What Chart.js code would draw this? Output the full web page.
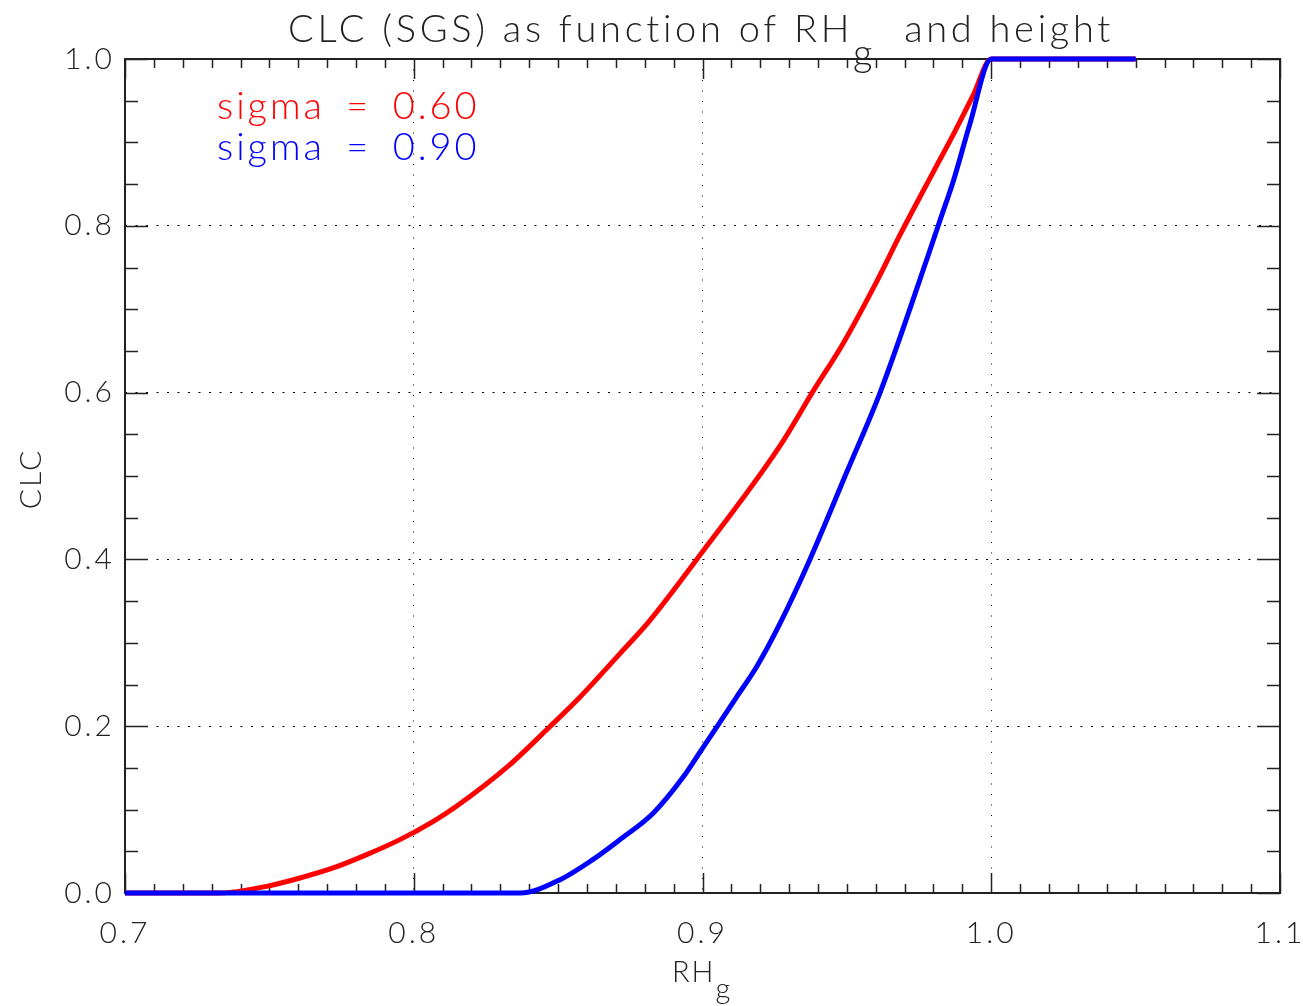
<!DOCTYPE html>
<html lang="en">
<head>
<meta charset="UTF-8" />
<title>CLC (SGS) as function of RHg and height</title>
<style>
  html, body { margin: 0; padding: 0; background: #fff; }
  #wrap { width: 1303px; height: 1006px; }
</style>
<script src="https://cdn.jsdelivr.net/npm/chart.js"></script>
</head>
<body>
<div id="wrap"><canvas id="clcChart"></canvas></div>
<script>
  // values
  const rhSigma060  = [0.700, 0.733, 0.749, 0.7606, 0.7721, 0.7837, 0.7952, 0.8068, 0.8148, 0.833, 0.847, 0.8576, 0.8714, 0.8818, 0.898, 0.927, 0.938, 0.9487, 0.960, 0.9684, 0.980, 0.9868, 0.9938, 1.000, 1.050];
  const clcSigma060 = [0.000, 0.000, 0.008, 0.018, 0.030, 0.046, 0.064, 0.086, 0.104, 0.153, 0.199, 0.235, 0.287, 0.327, 0.400, 0.537, 0.600, 0.659, 0.731, 0.789, 0.865, 0.909, 0.957, 1.000, 1.000];

  const rhSigma090  = [0.700, 0.837, 0.8507, 0.862, 0.8714, 0.883, 0.8933, 0.8997, 0.9049, 0.9118, 0.9187, 0.9268, 0.9372, 0.950, 0.9615, 0.9782, 0.9822, 0.9869, 0.9926, 1.000, 1.050];
  const clcSigma090 = [0.000, 0.000, 0.016, 0.040, 0.064, 0.096, 0.139, 0.172, 0.199, 0.235, 0.271, 0.323, 0.400, 0.505, 0.600, 0.765, 0.806, 0.854, 0.922, 1.000, 1.000];

  const seriesLabels = ['sigma = 0.60', 'sigma = 0.90'];
  const seriesColors = ['#ff0000', '#0000ff'];

  const FONT = 'Lato, "DejaVu Sans", sans-serif';
  const INK = '#222';

  function toPoints(xs, ys) {
    return xs.map((x, i) => ({ x: x, y: ys[i] }));
  }

  // draws text pieces, some of them as subscripts; returns total width
  function drawParts(ctx, parts, x, y, size, subDrop, doDraw) {
    let cx = x;
    parts.forEach(p => {
      ctx.font = `300 ${size}px ${FONT}`;
      if (doDraw) ctx.fillText(p.t, cx, p.sub ? y + subDrop : y);
      cx += ctx.measureText(p.t).width;
    });
    return cx - x;
  }

  const idlFrame = {
    id: 'idlFrame',
    beforeDraw(chart) {
      // wider glyph spacing for the tick labels, like the IDL font
      chart.ctx.letterSpacing = '3px';
    },
    beforeDatasetsDraw(chart) {
      const { ctx, chartArea: a, scales: { x, y } } = chart;
      ctx.save();
      ctx.strokeStyle = INK;
      ctx.lineWidth = 2;
      ctx.strokeRect(a.left, a.top, a.right - a.left, a.bottom - a.top);
      ctx.lineWidth = 1.5;
      ctx.beginPath();
      for (let i = 70; i <= 110; i++) {
        const px = Math.round(x.getPixelForValue(i / 100)) + 0.5;
        const len = i % 10 === 0 ? 20 : 9;
        ctx.moveTo(px, a.bottom); ctx.lineTo(px, a.bottom - len);
        ctx.moveTo(px, a.top); ctx.lineTo(px, a.top + len);
      }
      for (let j = 0; j <= 20; j++) {
        const py = Math.round(y.getPixelForValue(j / 20)) + 0.5;
        const len = j % 4 === 0 ? 23 : 13;
        ctx.moveTo(a.left, py); ctx.lineTo(a.left + len, py);
        ctx.moveTo(a.right, py); ctx.lineTo(a.right - len, py);
      }
      ctx.stroke();
      ctx.restore();
    },
    afterDraw(chart) {
      const { ctx } = chart;
      ctx.save();
      ctx.textBaseline = 'alphabetic';
      ctx.textAlign = 'left';

      // main title with subscript g
      ctx.fillStyle = INK;
      ctx.letterSpacing = '3.7px';
      const title = [{ t: 'CLC (SGS) as function of RH' }, { t: 'g', sub: true }, { t: '  and height' }];
      const tw = drawParts(ctx, title, 0, 0, 38, 24, false);
      drawParts(ctx, title, 701 - tw / 2, 42, 38, 24, true);

      // x axis title
      ctx.letterSpacing = '2px';
      const xt = [{ t: 'RH' }, { t: 'g', sub: true }];
      drawParts(ctx, xt, 672, 982, 29, 17, true);

      // y axis title, rotated
      ctx.save();
      ctx.translate(41, 479);
      ctx.rotate(-Math.PI / 2);
      ctx.textAlign = 'center';
      ctx.letterSpacing = '2px';
      ctx.font = `300 30px ${FONT}`;
      ctx.fillText('CLC', 0, 0);
      ctx.restore();

      // legend text in series colours
      ctx.letterSpacing = '3px';
      ctx.wordSpacing = '8px';
      chart.data.datasets.forEach((ds, i) => {
        ctx.fillStyle = ds.borderColor;
        ctx.font = `300 38px ${FONT}`;
        ctx.fillText(ds.label, 217, 119 + i * 41);
      });
      ctx.restore();
      ctx.letterSpacing = '0px';
      ctx.wordSpacing = '0px';
    }
  };

  const tickFont = { family: FONT, size: 30, weight: 300 };

  new Chart(document.getElementById('clcChart'), {
    type: 'line',
    data: {
      datasets: [
        {
          label: seriesLabels[0],
          data: toPoints(rhSigma060, clcSigma060),
          borderColor: seriesColors[0],
          borderWidth: 5,
          pointRadius: 0,
          cubicInterpolationMode: 'monotone',
          clip: false,
          order: 1
        },
        {
          label: seriesLabels[1],
          data: toPoints(rhSigma090, clcSigma090),
          borderColor: seriesColors[1],
          borderWidth: 5,
          pointRadius: 0,
          cubicInterpolationMode: 'monotone',
          clip: false,
          order: 0
        }
      ]
    },
    options: {
      responsive: true,
      maintainAspectRatio: false,
      animation: false,
      layout: { padding: { left: 0, right: 23, top: 59, bottom: 0 } },
      plugins: {
        legend: { display: false },
        title: { display: false },
        tooltip: { enabled: false }
      },
      scales: {
        x: {
          type: 'linear',
          min: 0.7,
          max: 1.1,
          afterFit: s => { s.height = 113; s.paddingLeft = 0; s.paddingRight = 0; },
          ticks: {
            stepSize: 0.1,
            padding: 22,
            color: INK,
            font: tickFont,
            maxRotation: 0,
            callback: v => v.toFixed(1)
          },
          grid: { color: '#000', lineWidth: 1, drawTicks: false },
          border: { display: false, dash: [1, 9.5] }
        },
        y: {
          min: 0,
          max: 1,
          afterFit: s => { s.width = 125; s.paddingTop = 0; s.paddingBottom = 0; },
          ticks: {
            stepSize: 0.2,
            padding: 10,
            color: INK,
            font: tickFont,
            callback: v => v.toFixed(1)
          },
          grid: { color: '#000', lineWidth: 1, drawTicks: false },
          border: { display: false, dash: [2, 8.5] }
        }
      }
    },
    plugins: [idlFrame]
  });
</script>
</body>
</html>
